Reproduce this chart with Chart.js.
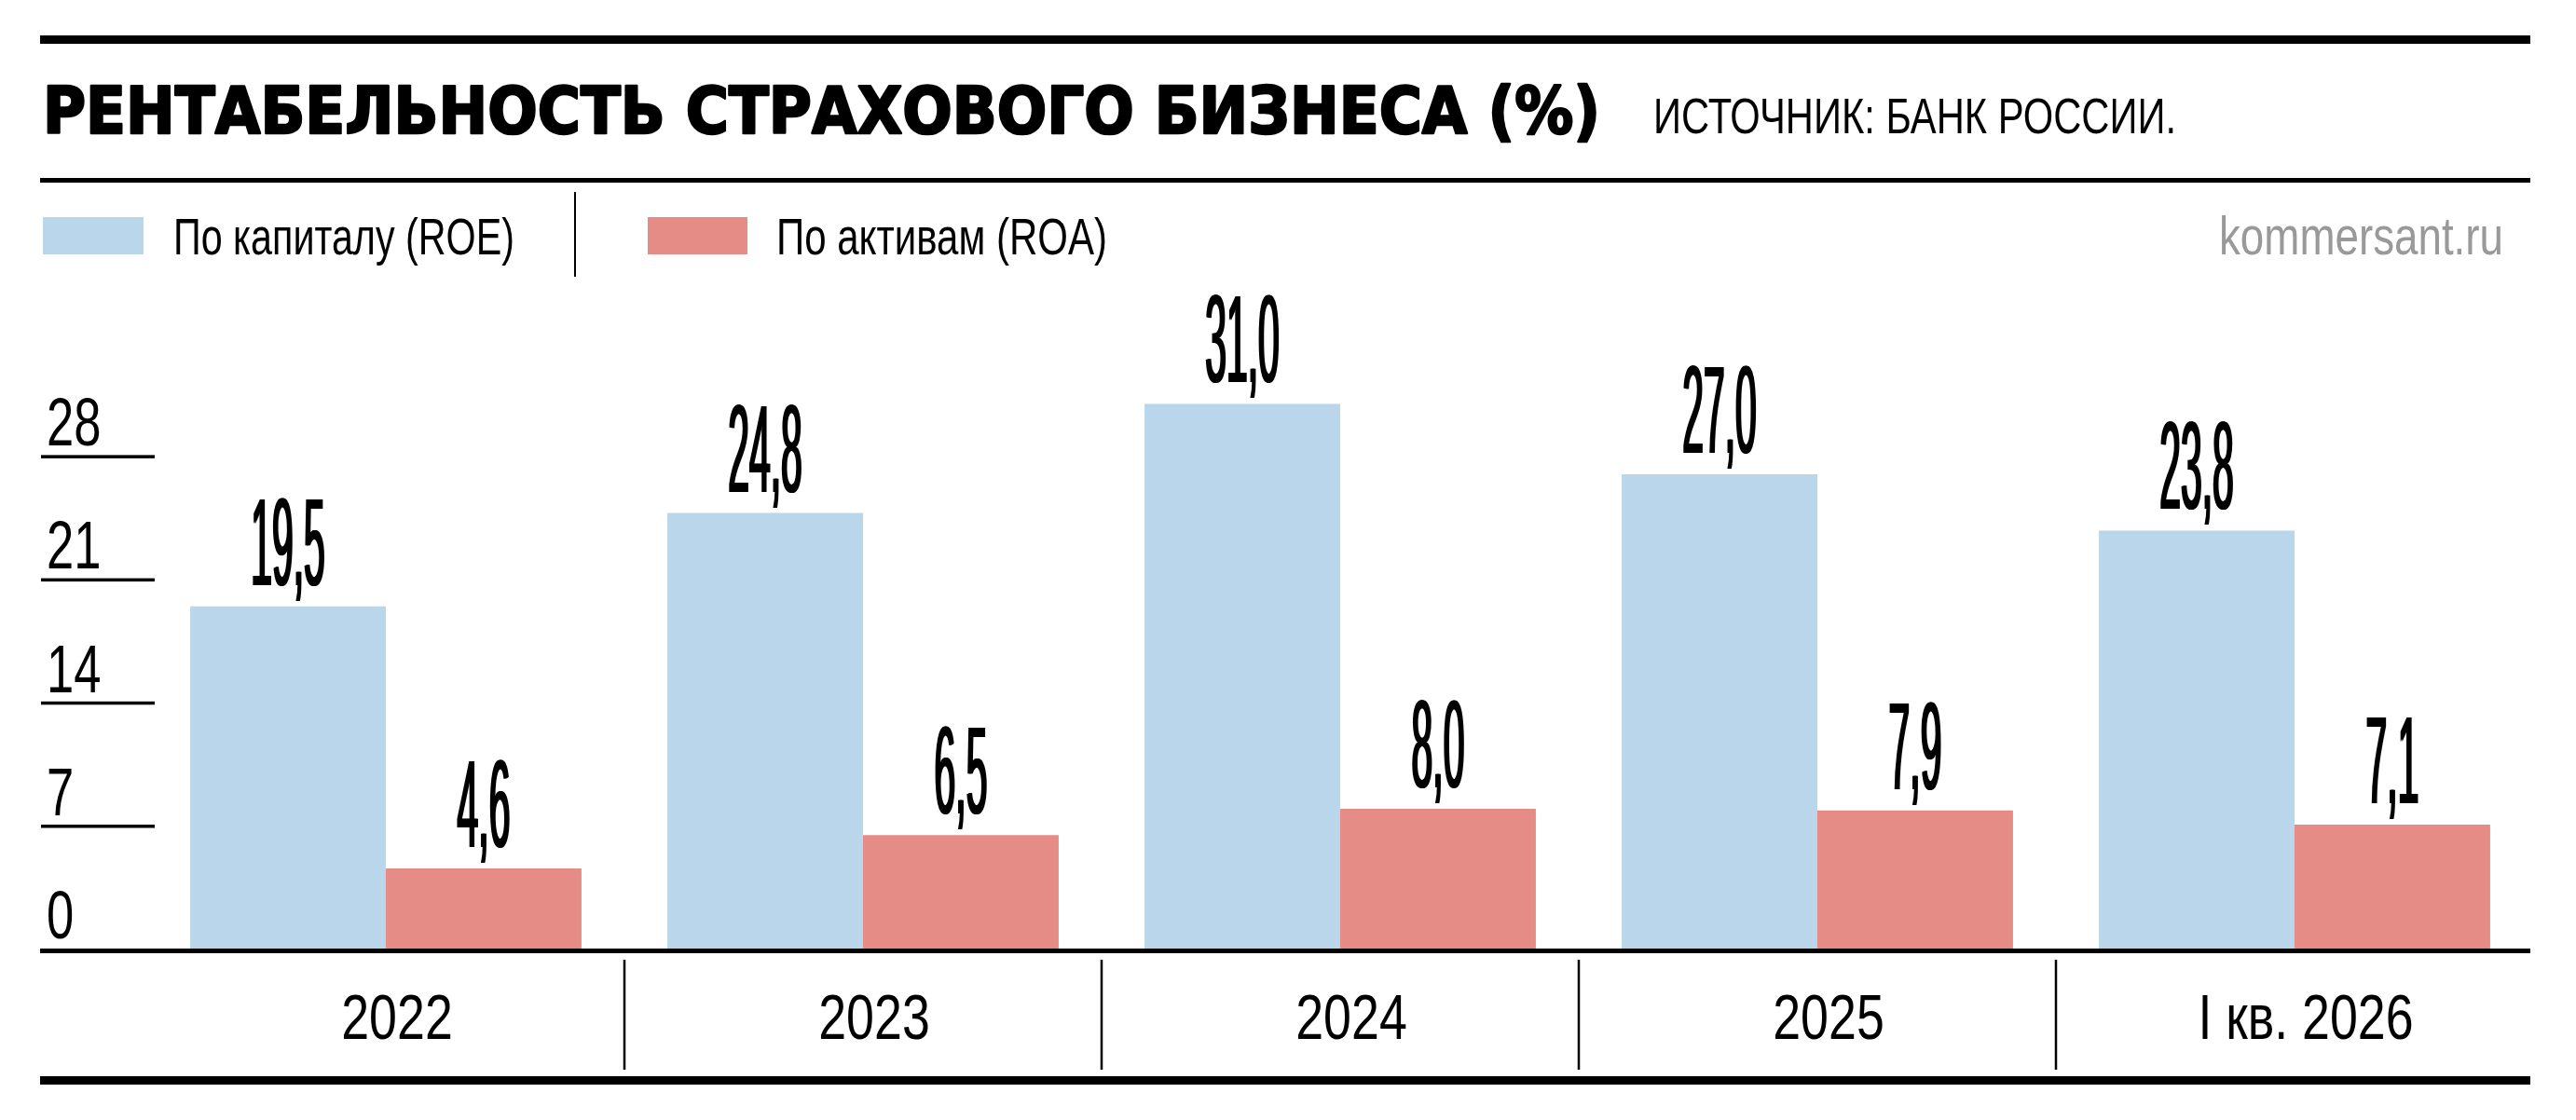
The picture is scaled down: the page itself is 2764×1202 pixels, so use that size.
<!DOCTYPE html>
<html>
<head>
<meta charset="utf-8">
<script src="https://cdn.jsdelivr.net/npm/chart.js@4.4.1/dist/chart.umd.min.js"></script>
<style>
  html, body { margin: 0; padding: 0; background: #fff; }
  canvas { display: block; }
</style>
</head>
<body>
<canvas id="chart" width="2764" height="1202"></canvas>
<script>
// --- data ---
const categories = ["2022", "2023", "2024", "2025", "I кв. 2026"];
const roeValues = [19.5, 24.8, 31.0, 27.0, 23.8];
const roaValues = [4.6, 6.5, 8.0, 7.9, 7.1];
const yTicks = [0, 7, 14, 21, 28];
const seriesNames = ["По капиталу (ROE)", "По активам (ROA)"];
const titleText = "РЕНТАБЕЛЬНОСТЬ СТРАХОВОГО БИЗНЕСА (%)";
const sourceText = "ИСТОЧНИК: БАНК РОССИИ.";
const siteText = "kommersant.ru";

const BLUE = "#bad6eb";
const RED = "#e68c87";
const INK = "#000";
const SANS = "'Liberation Sans', Arial, sans-serif";

// draw text squeezed to a given width (left aligned)
function fitText(c, text, x, y, font, width, color, stroke) {
    c.save();
    c.font = font;
    c.textAlign = "left";
    c.textBaseline = "alphabetic";
    const sx = width / c.measureText(text).width;
    c.translate(x, y);
    c.scale(sx, 1);
    c.fillStyle = color;
    c.fillText(text, 0, 0);
    if (stroke) {
        c.strokeStyle = color;
        c.lineWidth = stroke;
        c.lineJoin = "round";
        c.strokeText(text, 0, 0);
    }
    c.restore();
}

// draw text with a fixed horizontal squeeze; smear thickens vertical stems
function squeezeText(c, text, x, y, font, sx, align, color, smear) {
    const offs = smear ? [-smear, 0, smear] : [0];
    c.save();
    c.font = font;
    c.textAlign = align;
    c.textBaseline = "alphabetic";
    c.fillStyle = color;
    offs.forEach(o => {
        c.save();
        c.translate(x + o, y);
        c.scale(sx, 1);
        c.fillText(text, 0, 0);
        c.restore();
    });
    c.restore();
}

const decor = {
    id: "decor",
    beforeDraw(chart) {
        const c = chart.ctx;
        c.save();
        c.fillStyle = "#fff";
        c.fillRect(0, 0, chart.width, chart.height);
        c.restore();
    },
    afterDraw(chart) {
        const c = chart.ctx;
        const xs = chart.scales.x;
        const ys = chart.scales.y;
        const y0 = ys.getPixelForValue(0);

        c.save();
        c.fillStyle = INK;
        // rules
        c.fillRect(43, 38, 2672, 9);
        c.fillRect(43, 191, 2672, 5);
        c.fillRect(43, 1155, 2672, 9);
        // base axis
        c.fillRect(43, y0 - 1, 2672, 5);

        // header
        fitText(c, titleText, 46, 143, "bold 69px 'DejaVu Sans', sans-serif", 1671, INK, 2.5);
        fitText(c, sourceText, 1774, 143, "54px " + SANS, 561, INK);

        // legend
        c.fillStyle = BLUE;
        c.fillRect(46, 233, 108, 40);
        c.fillStyle = RED;
        c.fillRect(695, 233, 107, 40);
        c.fillStyle = INK;
        c.fillRect(616, 206, 2, 91);
        fitText(c, seriesNames[0], 186, 273, "56px " + SANS, 366, INK);
        fitText(c, seriesNames[1], 833, 273, "56px " + SANS, 355, INK);
        fitText(c, siteText, 2381, 273, "57px " + SANS, 305, "#999");

        // y ticks
        yTicks.forEach(v => {
            const py = ys.getPixelForValue(v);
            c.fillStyle = INK;
            if (v !== 0) c.fillRect(44, py - 1.75, 122, 3.5);
            squeezeText(c, String(v), 50, py - 12, "73px " + SANS, 0.72, "left", INK);
        });

        // category labels and separators
        categories.forEach((lab, i) => {
            const px = xs.getPixelForValue(i);
            squeezeText(c, lab, px + 12, 1115, "68px " + SANS, 0.79, "center", INK);
            if (i < categories.length - 1) {
                const sep = (px + xs.getPixelForValue(i + 1)) / 2;
                c.fillStyle = INK;
                c.fillRect(sep - 1.25, 1030, 2.5, 118);
            }
        });

        // value labels
        chart.data.datasets.forEach((ds, di) => {
            const meta = chart.getDatasetMeta(di);
            meta.data.forEach((bar, i) => {
                const txt = ds.data[i].toFixed(1).replace(".", ",");
                squeezeText(c, txt, bar.x, bar.y - 23, "134px " + SANS, 0.305, "center", INK, 1);
            });
        });
        c.restore();
    }
};

const chart = new Chart(document.getElementById("chart"), {
    type: "bar",
    data: {
        labels: categories,
        datasets: [
            { label: seriesNames[0], data: roeValues, backgroundColor: BLUE },
            { label: seriesNames[1], data: roaValues, backgroundColor: RED }
        ]
    },
    options: {
        responsive: false,
        animation: false,
        events: [],
        layout: { padding: { left: 158, right: 46, top: 339, bottom: 183 } },
        datasets: { bar: { categoryPercentage: 0.82, barPercentage: 1.0, borderWidth: 0 } },
        plugins: {
            legend: { display: false },
            title: { display: false },
            tooltip: { enabled: false }
        },
        scales: {
            x: { display: false },
            y: { display: false, min: 0, max: 36 }
        }
    },
    plugins: [decor]
});
</script>
</body>
</html>
